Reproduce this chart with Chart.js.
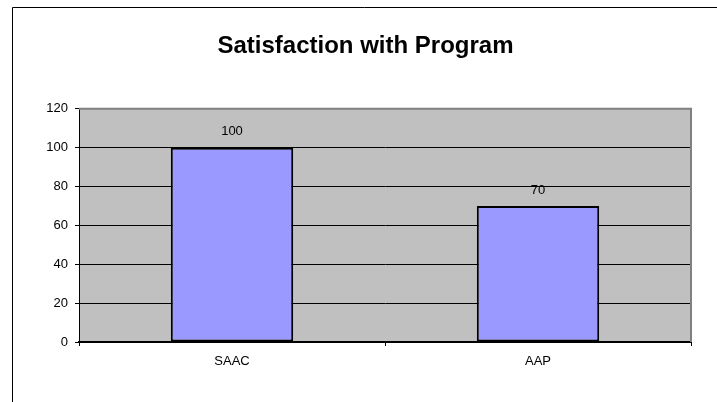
<!DOCTYPE html>
<html>
<head>
<meta charset="utf-8">
<script src="https://cdn.jsdelivr.net/npm/chart.js@4/dist/chart.umd.min.js"></script>
<style>
	html, body { margin: 0; padding: 0; background: #fff; }
	#wrap { width: 717px; height: 402px; }
</style>
</head>
<body>
<div id="wrap"><canvas id="bar-chart" width="717" height="402"></canvas></div>
<script>
// **DATOS**
const categories = ['SAAC', 'AAP'];
const satisfaction = [100, 70];
const yTicks = [0, 20, 40, 60, 80, 100, 120];

const FONT = "'Liberation Sans', Arial, sans-serif";

/**
 * Fondo gris del área de trazado, marco exterior y borde superior/derecho.
 */
const plotFrame = {
	id: 'plotFrame',
	beforeDraw(chart) {
		const { ctx, chartArea: a } = chart;
		ctx.save();
		ctx.fillStyle = '#c0c0c0';
		ctx.fillRect(a.left, a.top, a.right - a.left, a.bottom - a.top);
		// marco exterior del gráfico
		ctx.strokeStyle = '#000';
		ctx.lineWidth = 1;
		ctx.beginPath();
		ctx.moveTo(12.5, 402);
		ctx.lineTo(12.5, 7.5);
		ctx.lineTo(717, 7.5);
		ctx.stroke();
		ctx.restore();
	},
	beforeDatasetsDraw(chart) {
		const { ctx, chartArea: a } = chart;
		ctx.save();
		ctx.strokeStyle = '#808080';
		ctx.lineWidth = 2;
		ctx.beginPath();
		ctx.moveTo(a.left, a.top);
		ctx.lineTo(a.right, a.top);
		ctx.lineTo(a.right, a.bottom);
		ctx.stroke();
		ctx.restore();
	}
};

/**
 * Escribe el valor encima de cada barra.
 */
const valueLabels = {
	id: 'valueLabels',
	afterDatasetsDraw(chart) {
		const { ctx } = chart;
		ctx.save();
		ctx.font = '13px ' + FONT;
		ctx.fillStyle = '#000';
		ctx.textAlign = 'center';
		ctx.textBaseline = 'middle';
		chart.getDatasetMeta(0).data.forEach((bar, i) => {
			ctx.fillText(String(satisfaction[i]), bar.x, bar.y - 16);
		});
		ctx.restore();
	}
};

function createBarChart() {
	new Chart(document.getElementById('bar-chart'), {
		type: 'bar',
		data: {
			labels: categories,
			datasets: [{
				data: satisfaction,
				backgroundColor: '#9999ff',
				borderColor: '#000',
				borderWidth: 2,
				borderSkipped: false,
				barPercentage: 0.4,
				categoryPercentage: 1,
			}],
		},
		options: {
			responsive: false,
			animation: false,
			layout: { padding: { left: 14, right: 0, top: 0, bottom: 0 } },
			plugins: {
				legend: { display: false },
				tooltip: { enabled: false },
				title: {
					display: true,
					text: 'Satisfaction with Program',
					color: '#000',
					font: { family: FONT, size: 24, weight: 'bold' },
					padding: { top: 32, bottom: 48 },
				},
			},
			scales: {
				x: {
					grid: { drawOnChartArea: false, offset: true, tickLength: 4, color: '#000' },
					border: { color: '#000', width: 2 },
					ticks: { color: '#000', padding: 8, font: { family: FONT, size: 13 } },
					afterFit(scale) { scale.height = 60; },
				},
				y: {
					min: 0,
					max: 120,
					afterBuildTicks(scale) { scale.ticks = yTicks.map(v => ({ value: v })); },
					grid: { color: '#000', lineWidth: 1, tickLength: 4 },
					border: { color: '#000', width: 1 },
					ticks: { color: '#000', padding: 7, font: { family: FONT, size: 13 } },
					afterFit(scale) { scale.width = 65; },
				},
				// eje vacío a la derecha para reservar el margen
				yRight: {
					position: 'right',
					grid: { display: false },
					border: { display: false },
					ticks: { display: false },
					afterFit(scale) { scale.width = 26; },
				},
			},
		},
		plugins: [plotFrame, valueLabels],
	});
}

document.addEventListener('DOMContentLoaded', createBarChart);
</script>
</body>
</html>
